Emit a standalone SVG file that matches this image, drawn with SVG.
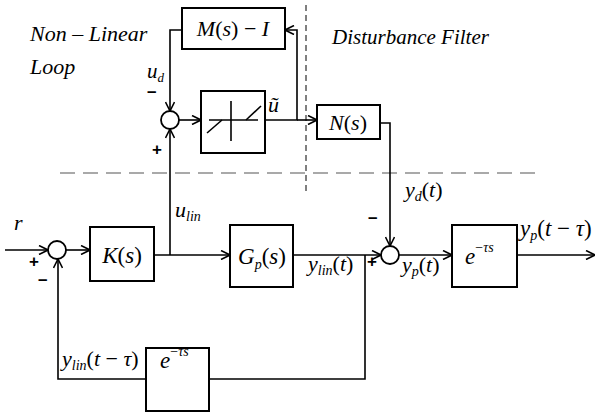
<svg xmlns="http://www.w3.org/2000/svg" width="596" height="412" viewBox="0 0 596 412">
<style>
.box{fill:#fff;stroke:#000;stroke-width:2}
.ln{fill:none;stroke:#000;stroke-width:1.6}
.u{font-style:normal}
.sg{font-family:Arial,'Liberation Sans',sans-serif;font-weight:bold;fill:#000;font-size:17px}
</style>
<defs>
<marker id="ah" viewBox="0 0 10 10" refX="10" refY="5" markerWidth="10" markerHeight="10" markerUnits="userSpaceOnUse" orient="auto">
<path d="M1,0.5 L10,5 L1,9.5" fill="none" stroke="#000" stroke-width="1.6"/>
</marker>
</defs>
<g id="dividers">
<line x1="60" y1="173" x2="542" y2="173" stroke="#555" stroke-width="1.2" stroke-dasharray="15,8"/>
<line x1="306" y1="5" x2="306" y2="192" stroke="#000" stroke-width="1" stroke-dasharray="6,4"/>
</g>
<g id="connectors" class="ln">
<line x1="5" y1="250" x2="48" y2="250" marker-end="url(#ah)"/>
<line x1="66" y1="250" x2="90" y2="250" marker-end="url(#ah)"/>
<line x1="154" y1="255" x2="230" y2="255" marker-end="url(#ah)"/>
<line x1="170" y1="255" x2="170" y2="129" marker-end="url(#ah)"/>
<line x1="178" y1="120" x2="201" y2="120" marker-end="url(#ah)"/>
<polyline points="265,120 297,120 297,30 285,30" marker-end="url(#ah)"/>
<line x1="297" y1="120" x2="317" y2="120" marker-end="url(#ah)"/>
<polyline points="182,30 170,30 170,111" marker-end="url(#ah)"/>
<polyline points="380,123 390,123 390,246" marker-end="url(#ah)"/>
<line x1="293" y1="255" x2="381" y2="255" marker-end="url(#ah)"/>
<line x1="399" y1="255" x2="452" y2="255" marker-end="url(#ah)"/>
<line x1="517" y1="255" x2="595" y2="255" marker-end="url(#ah)"/>
<polyline points="365,255 365,379 209,379"/>
<polyline points="146,379 58,379 58,259" marker-end="url(#ah)"/>
</g>
<g id="sum1"><circle cx="57" cy="250" r="9" fill="#fff" stroke="#000" stroke-width="1.8"/></g>
<g id="sum2"><circle cx="170" cy="120" r="9" fill="#fff" stroke="#000" stroke-width="1.8"/></g>
<g id="sum3"><circle cx="390" cy="255" r="9" fill="#fff" stroke="#000" stroke-width="1.8"/></g>
<g font-family="Liberation Serif, Times New Roman, serif" font-style="italic" fill="#000">
<g id="K">
<rect class="box" x="90" y="227" width="64" height="54"/>
<text x="122" y="263" font-size="23" text-anchor="middle">K<tspan class="u">(</tspan>s<tspan class="u">)</tspan></text>
</g>
<g id="Gp">
<rect class="box" x="230" y="225" width="63" height="62"/>
<text x="262" y="264" font-size="23" text-anchor="middle">G<tspan font-size="14" dy="5">p</tspan><tspan class="u" dy="-5">(</tspan>s<tspan class="u">)</tspan></text>
</g>
<g id="M">
<rect class="box" x="182" y="8" width="103" height="41"/>
<text x="233" y="36" font-size="22" text-anchor="middle">M<tspan class="u">(</tspan>s<tspan class="u">) − </tspan>I</text>
</g>
<g id="NL">
<rect class="box" x="201" y="91" width="64" height="62"/>
<g class="ln" stroke-width="1.4">
<line x1="231" y1="101" x2="231" y2="141"/>
<line x1="209" y1="120" x2="258" y2="120"/>
<line x1="207" y1="133" x2="222" y2="120"/>
<line x1="246" y1="120" x2="261" y2="106"/>
</g>
</g>
<g id="N">
<rect class="box" x="317" y="105" width="63" height="34"/>
<text x="348" y="130" font-size="22" text-anchor="middle">N<tspan class="u">(</tspan>s<tspan class="u">)</tspan></text>
</g>
<g id="D1">
<rect class="box" x="452" y="225" width="65" height="62"/>
<text x="465" y="264" font-size="23">e<tspan font-size="14" dy="-12" class="u">−</tspan><tspan font-size="14">τs</tspan></text>
</g>
<g id="D2">
<rect class="box" x="146" y="348" width="63" height="63"/>
<text x="160" y="368" font-size="23">e<tspan font-size="14" dy="-12" class="u">−</tspan><tspan font-size="14">τs</tspan></text>
</g>
<g id="labels">
<text x="30" y="41" font-size="22">Non – Linear</text>
<text x="30" y="74" font-size="22">Loop</text>
<text x="332" y="44" font-size="21">Disturbance  Filter</text>
<text x="147" y="78" font-size="21">u<tspan font-size="13" dy="4">d</tspan></text>
<text x="268" y="112" font-size="22">ũ</text>
<text x="175" y="217" font-size="22">u<tspan font-size="14" dy="4">lin</tspan></text>
<text x="14" y="230" font-size="22">r</text>
<text x="405" y="197" font-size="22">y<tspan font-size="14" dy="4">d</tspan><tspan class="u" dy="-4">(</tspan>t<tspan class="u">)</tspan></text>
<text x="308" y="271" font-size="22">y<tspan font-size="14" dy="4">lin</tspan><tspan class="u" dy="-4">(</tspan>t<tspan class="u">)</tspan></text>
<text x="402" y="272" font-size="22">y<tspan font-size="14" dy="4">p</tspan><tspan class="u" dy="-4">(</tspan>t<tspan class="u">)</tspan></text>
<text x="520" y="236" font-size="23">y<tspan font-size="14" dy="4">p</tspan><tspan class="u" dy="-4">(</tspan>t<tspan class="u"> − </tspan>τ<tspan class="u">)</tspan></text>
<text x="62" y="366" font-size="22">y<tspan font-size="14" dy="4">lin</tspan><tspan class="u" dy="-4">(</tspan>t<tspan class="u"> − </tspan>τ<tspan class="u">)</tspan></text>
</g>
</g>
<g id="signs">
<text class="sg" x="147" y="97">–</text>
<text class="sg" x="152" y="155">+</text>
<text class="sg" x="29" y="267">+</text>
<text class="sg" x="38" y="285">–</text>
<text class="sg" x="368" y="223">–</text>
<text class="sg" x="367" y="267">+</text>
</g>
</svg>
